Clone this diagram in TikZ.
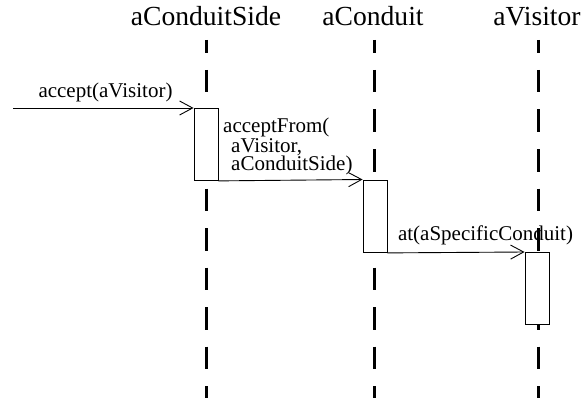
\documentclass[tikz,border=0pt]{standalone}
\usepackage{fontspec}
\setmainfont{Liberation Serif}
\usetikzlibrary{arrows.meta}
\tikzset{
 lifeline/.style={line width=3pt, dash pattern=on 22.5pt off 17pt, dash phase=9.5pt},
 activation/.style={draw, fill=white, line width=0.9pt, minimum width=24pt, inner sep=0pt},
 msg/.style={line width=0.9pt, -{Straight Barb[length=13pt,width=14pt]}},
 msglabel/.style={font=\fontsize{21}{17.5}\selectfont, inner sep=0pt},
 objtitle/.style={font=\fontsize{27.6}{30}\selectfont, inner sep=0pt}
}
\begin{document}
\begin{tikzpicture}[x=1pt,y=-1pt]
\useasboundingbox (0,0) rectangle (585,398);
% objects
\node[objtitle,anchor=base] (side) at (206,26) {aConduitSide};
\node[objtitle,anchor=base] (cond) at (373,26) {aConduit};
\node[objtitle,anchor=base] (vis) at (537,26) {aVisitor};
% lifelines
\foreach \n/\x in {side/206,cond/374,vis/538}
{
\coordinate (\n top) at (\x,40);
\coordinate (\n end) at (\x,398);
\draw[lifeline] (\n top) -- (\n end);
}
% activations
\node[activation,minimum height=72pt,anchor=north] (act1) at (206,108) {};
\node[activation,minimum height=72.5pt,anchor=north] (act2) at (375,179.5) {};
\node[activation,minimum height=72pt,anchor=north] (act3) at (537,252) {};
% messages
\coordinate (caller) at (13,108);
\draw[msg] (caller) -- (act1.north west);
\draw[msg] (act1.south east) -- (act2.north west);
\draw[msg] (act2.south east) -- (act3.north west);
\node[msglabel,anchor=base] (acceptlbl) at (105.5,98) {accept(aVisitor)};
\node[msglabel,anchor=north west,align=left] (fromlbl) at (223,118)
     {acceptFrom(\\\hspace*{8pt}aVisitor,\\\hspace*{8pt}aConduitSide)};
\node[msglabel,anchor=base] (atlbl) at (485.5,240) {at(aSpecificConduit)};
\end{tikzpicture}
\end{document}
